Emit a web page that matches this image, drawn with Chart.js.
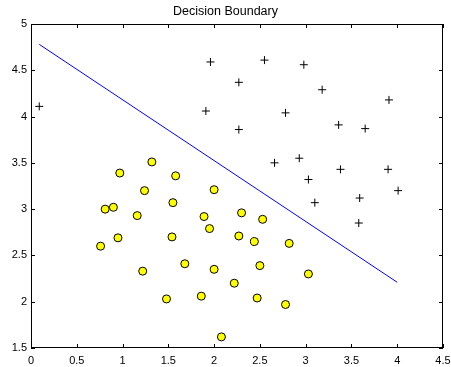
<!DOCTYPE html>
<html>
<head>
<meta charset="utf-8">
<script src="https://cdn.jsdelivr.net/npm/chart.js@4/dist/chart.umd.min.js"></script>
<style>
  html, body { margin: 0; padding: 0; background: #fff; }
  canvas { display: block; }
</style>
</head>
<body>
<canvas id="chart" width="451" height="367"></canvas>
<script>
// admitted (+)
const posX = [0.09, 1.96, 2.55, 2.98, 2.27, 3.18, 3.91, 1.91, 2.78, 2.27, 3.36, 3.65, 2.66, 2.93, 3.38, 3.90, 3.03, 4.01, 3.10, 3.59, 3.58];
const posY = [4.11, 4.59, 4.61, 4.56, 4.37, 4.29, 4.18, 4.06, 4.04, 3.86, 3.91, 3.87, 3.50, 3.55, 3.43, 3.43, 3.32, 3.20, 3.07, 3.12, 2.85];

// not admitted (o)
const negX = [1.32, 0.97, 1.58, 1.24, 2.00, 1.55, 0.81, 0.90, 1.16, 1.89, 2.30, 2.53, 1.95, 0.95, 1.54, 2.27, 2.44, 2.82, 0.76,
              1.68, 1.22, 2.00, 2.50, 3.03, 2.22, 1.48, 1.86, 2.47, 2.78, 2.08];
const negY = [3.51, 3.39, 3.36, 3.20, 3.21, 3.07, 3.00, 3.02, 2.93, 2.92, 2.96, 2.89, 2.79, 2.69, 2.70, 2.71, 2.65, 2.63, 2.60,
              2.41, 2.33, 2.35, 2.39, 2.30, 2.20, 2.03, 2.06, 2.04, 1.97, 1.62];

// decision boundary
const boundaryX = [0.09, 4.00];
const boundaryY = [4.78, 2.21];

const toPoints = (xs, ys) => xs.map((x, i) => ({ x, y: ys[i] }));
const fmt = (v) => String(+v.toFixed(2)); // 5 not 5.0

// box + inward ticks like matlab
const boxTicks = {
  id: "boxTicks",
  afterDraw(chart) {
    const { ctx, chartArea: a, scales } = chart;
    ctx.save();
    ctx.strokeStyle = "#000";
    ctx.lineWidth = 1;
    ctx.strokeRect(a.left + 0.5, a.top + 0.5, a.right - a.left - 1, a.bottom - a.top - 1);
    const len = 4;
    ctx.beginPath();
    scales.x.ticks.forEach((t) => {
      const px = Math.round(scales.x.getPixelForValue(t.value)) + 0.5;
      ctx.moveTo(px, a.bottom); ctx.lineTo(px, a.bottom - len);
      ctx.moveTo(px, a.top); ctx.lineTo(px, a.top + len);
    });
    scales.y.ticks.forEach((t) => {
      const py = Math.round(scales.y.getPixelForValue(t.value)) + 0.5;
      ctx.moveTo(a.left, py); ctx.lineTo(a.left + len, py);
      ctx.moveTo(a.right, py); ctx.lineTo(a.right - len, py);
    });
    ctx.stroke();
    ctx.restore();
  },
};

const font = { family: "Liberation Sans, Arial, sans-serif", size: 11 };

new Chart(document.getElementById("chart"), {
  type: "scatter",
  data: {
    datasets: [
      {
        label: "Admitted",
        data: toPoints(posX, posY),
        pointStyle: "cross",
        pointRadius: 4,
        borderColor: "#000",
        borderWidth: 1,
      },
      {
        label: "Not admitted",
        data: toPoints(negX, negY),
        pointStyle: "circle",
        pointRadius: 4,
        backgroundColor: "#ffff00",
        borderColor: "#000",
        borderWidth: 1,
      },
      {
        type: "line",
        label: "Boundary",
        data: toPoints(boundaryX, boundaryY),
        borderColor: "#0000ff",
        borderWidth: 1,
        pointRadius: 0,
        fill: false,
      },
    ],
  },
  options: {
    responsive: false,
    animation: false,
    layout: { padding: 0 },
    plugins: {
      legend: { display: false },
      tooltip: { enabled: false },
      title: {
        display: true,
        text: "Decision Boundary",
        color: "#000",
        font: { ...font, size: 12.5, weight: "normal" },
        padding: { top: 4, bottom: 5 },
      },
    },
    scales: {
      x: {
        type: "linear",
        min: 0,
        max: 4.5,
        ticks: { stepSize: 0.5, color: "#000", padding: 6, maxRotation: 0, font, callback: fmt },
        grid: { display: false, drawTicks: false },
        border: { display: false },
        afterFit: (s) => { s.height = 19; s.paddingLeft = 0; s.paddingRight = 8; },
      },
      y: {
        type: "linear",
        min: 1.5,
        max: 5,
        ticks: { stepSize: 0.5, color: "#000", padding: 4, font, callback: fmt },
        grid: { display: false, drawTicks: false },
        border: { display: false },
        afterFit: (s) => { s.width = 31; s.paddingTop = 0; s.paddingBottom = 0; },
      },
    },
  },
  plugins: [boxTicks],
});
</script>
</body>
</html>
